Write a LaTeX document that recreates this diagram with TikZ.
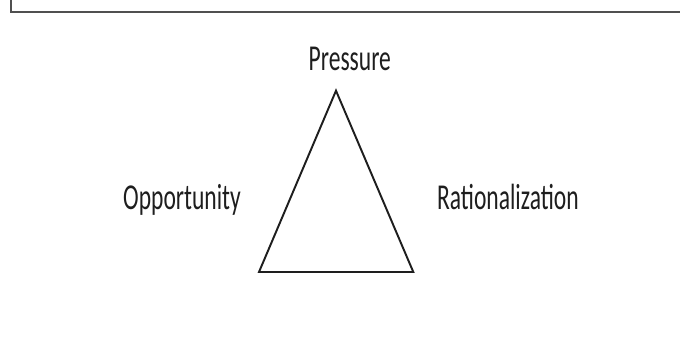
\documentclass[tikz,border=0pt]{standalone}
\usepackage{fontspec}
\setmainfont{Carlito}
\usepackage{xcolor}
\usetikzlibrary{positioning}
\definecolor{framegray}{RGB}{80,80,80}
\definecolor{inkgray}{RGB}{30,30,30}

\begin{document}
\begin{tikzpicture}[
  x=0.02cm, y=0.02cm,
  lbl/.style={font=\fontsize{13.4}{16}\selectfont, text=inkgray, inner sep=0pt,
              anchor=base, yscale=1.55},
  edge/.style={draw=inkgray, line width=1.1pt, line join=miter}
]
\useasboundingbox (0,0) rectangle (680,341);
% frame, top and left only
\draw[framegray, line width=1.2pt] (10.7,341) -- (10.7,328.7) -- (680,328.7);

% triangle corners
\coordinate (apex) at (336,250.3);
\coordinate (left) at (259,69);
\coordinate (right) at (413.3,69);
\draw[edge] (apex) -- (left) -- (right) -- cycle;

\node[lbl] (pressure) at (349.8,270.3) {Pressure};
\node[lbl] (opportunity) at (182,131.7) {Opportunity};
\node[lbl] (rational) at (507.9,131.7) {Rationalization};
\end{tikzpicture}
\end{document}
